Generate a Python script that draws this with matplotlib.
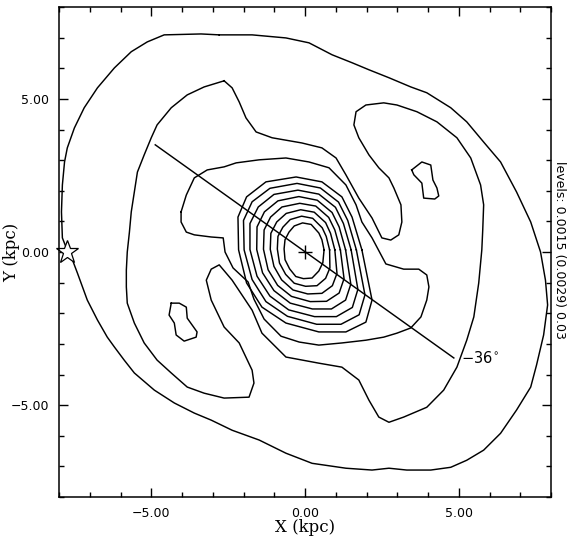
import numpy as np
import matplotlib.pyplot as plt
from matplotlib.ticker import MultipleLocator

# contour outlines, in kpc
outer_x = [-2.79, -1.72, -0.62, 0.13, 0.88, 1.53, 2.08, 2.73, 3.44, 3.96, 4.74, 5.26, 5.81, 6.36, 6.88, 7.34,
           7.66, 7.82, 7.89, 7.76, 7.53, 7.34, 6.88, 6.36, 5.81, 5.26, 4.74, 4.09, 3.31, 2.73, 2.18, 1.33,
           0.23, -0.62, -1.49, -2.37, -3.05, -3.60, -4.25, -4.90, -5.55, -5.88, -6.20, -6.43, -6.75, -7.08,
           -7.40, -7.60, -7.76, -7.89, -7.92, -7.89, -7.82, -7.73, -7.50, -7.18, -6.75, -6.20, -5.65, -5.13,
           -4.58, -3.38]
outer_y = [7.09, 7.09, 6.99, 6.83, 6.44, 6.18, 5.95, 5.69, 5.39, 5.20, 4.71, 4.25, 3.59, 2.94, 1.96, 0.98,
           0.00, -0.92, -1.73, -2.71, -3.69, -4.41, -5.16, -5.92, -6.47, -6.80, -7.03, -7.12, -7.12, -7.06,
           -7.12, -7.06, -6.90, -6.57, -6.14, -5.82, -5.49, -5.26, -4.93, -4.51, -3.95, -3.53, -3.10, -2.78,
           -2.22, -1.57, -0.69, -0.16, 0.13, 0.46, 1.31, 2.19, 2.94, 3.40, 4.05, 4.71, 5.36, 6.01, 6.54, 6.86,
           7.09, 7.12]

arms_x = [-2.63, -2.37, -2.14, -1.92, -1.59, -1.07, -0.10, 0.55, 1.01, 1.33, 1.75, 2.18, 2.50, 2.79, 3.05,
          3.15, 3.12, 2.89, 2.73, 2.40, 2.08, 1.75, 1.59, 1.66, 1.98, 2.56, 2.99, 3.64, 4.29, 4.94, 5.39,
          5.71, 5.81, 5.78, 5.75, 5.65, 5.49, 5.26, 4.94, 4.51, 3.96, 3.21, 2.73, 2.40, 2.08, 1.75, 1.20,
          0.45, -0.62, -1.40, -1.72, -2.37, -2.79, -3.05, -3.21, -3.05, -2.63, -2.14, -1.72, -1.66, -1.82,
          -2.63, -3.28, -3.83, -4.35, -4.81, -5.23, -5.55, -5.78, -5.81, -5.81, -5.78, -5.71, -5.65, -5.55,
          -5.45, -5.23, -5.00, -4.81, -4.35, -3.83, -3.28]
arms_y = [5.59, 5.36, 4.90, 4.38, 3.92, 3.73, 3.56, 3.40, 3.07, 2.52, 1.76, 1.11, 0.46, 0.39, 0.56,
          0.98, 1.54, 2.09, 2.42, 2.75, 3.17, 3.73, 4.15, 4.58, 4.80, 4.87, 4.80, 4.58, 4.25, 3.73, 3.07,
          2.19, 1.54, 0.72, 0.07, -1.01, -2.12, -2.88, -3.76, -4.51, -5.07, -5.39, -5.56, -5.39, -4.84, -4.18,
          -3.76, -3.63, -3.43, -2.65, -1.90, -0.92, -0.42, -0.56, -0.92, -1.57, -2.45, -2.97, -3.86, -4.28,
          -4.74, -4.77, -4.61, -4.41, -3.95, -3.53, -2.97, -2.32, -1.67, -1.14, -0.59, 0.00, 0.65, 1.31, 1.96,
          2.61, 3.17, 3.73, 4.15, 4.71, 5.13, 5.39]

bar_x = [-4.03, -3.86, -3.60, -3.18, -2.63, -2.24, -1.49, -0.62, 0.13, 0.78, 1.33, 1.66, 1.85, 2.18, 2.63,
         3.21, 3.70, 3.96, 4.03, 3.96, 3.77, 3.44, 2.99, 2.56, 1.98, 1.20, 0.45, -0.19, -0.78, -1.33, -1.66,
         -1.85, -2.34, -2.60, -2.66, -3.05, -3.60, -3.86, -4.03]
bar_y = [1.31, 1.86, 2.42, 2.68, 2.78, 2.91, 3.01, 3.07, 2.94, 2.75, 2.19, 1.54, 0.98, 0.46, -0.39,
         -0.56, -0.56, -0.75, -1.14, -1.57, -2.12, -2.48, -2.65, -2.78, -2.88, -2.97, -3.04, -2.94, -2.75,
         -2.19, -1.54, -0.98, -0.52, 0.00, 0.46, 0.49, 0.56, 0.65, 0.98]

island_ne_x = [3.47, 3.80, 4.09, 4.16, 4.29, 4.35, 4.22, 3.86, 3.80, 3.54]
island_ne_y = [2.68, 2.94, 2.84, 2.35, 2.09, 1.83, 1.73, 1.76, 2.25, 2.52]
island_sw_x = [-4.35, -4.09, -3.86, -3.83, -3.51, -3.54, -3.93, -4.19, -4.25, -4.42]
island_sw_y = [-1.67, -1.67, -1.80, -2.16, -2.61, -2.78, -2.91, -2.71, -2.32, -2.06]

# nested central contours, outermost first (16 vertices each)
core0_x = [1.85, 1.53, 1.20, 0.55, -0.29, -1.27, -1.90, -2.18, -2.16, -1.90, -1.40, -0.62, 0.45, 1.33, 1.98, 2.18]
core0_y = [0.07, 1.14, 1.80, 2.29, 2.45, 2.29, 1.80, 1.14, 0.07, -1.01, -1.80, -2.32, -2.61, -2.61, -2.29, -1.57]
core1_x = [1.67, 1.39, 1.09, 0.50, -0.26, -1.14, -1.72, -2.00, -1.98, -1.72, -1.27, -0.57, 0.38, 1.17, 1.76, 1.95]
core1_y = [0.07, 1.03, 1.63, 2.09, 2.24, 2.08, 1.64, 1.03, 0.07, -0.90, -1.62, -2.10, -2.36, -2.36, -2.05, -1.40]
core2_x = [1.50, 1.25, 0.99, 0.45, -0.23, -1.01, -1.52, -1.79, -1.79, -1.56, -1.14, -0.53, 0.31, 1.02, 1.54, 1.72]
core2_y = [0.07, 0.93, 1.46, 1.89, 2.02, 1.88, 1.47, 0.93, 0.08, -0.79, -1.44, -1.89, -2.11, -2.11, -1.81, -1.22]
core3_x = [1.32, 1.11, 0.88, 0.40, -0.20, -0.88, -1.32, -1.56, -1.57, -1.38, -1.01, -0.48, 0.24, 0.86, 1.32, 1.49]
core3_y = [0.07, 0.82, 1.29, 1.69, 1.81, 1.67, 1.31, 0.82, 0.08, -0.68, -1.26, -1.67, -1.86, -1.86, -1.57, -1.05]
core4_x = [1.15, 0.97, 0.77, 0.35, -0.17, -0.75, -1.12, -1.33, -1.35, -1.20, -0.89, -0.44, 0.17, 0.70, 1.11, 1.27]
core4_y = [0.07, 0.72, 1.13, 1.50, 1.59, 1.47, 1.14, 0.72, 0.09, -0.58, -1.09, -1.45, -1.62, -1.61, -1.34, -0.87]
core5_x = [0.97, 0.83, 0.67, 0.30, -0.14, -0.61, -0.92, -1.11, -1.13, -1.01, -0.76, -0.39, 0.09, 0.55, 0.89, 1.04]
core5_y = [0.07, 0.61, 0.96, 1.30, 1.38, 1.26, 0.98, 0.61, 0.09, -0.47, -0.91, -1.24, -1.37, -1.35, -1.10, -0.70]
core6_x = [0.80, 0.69, 0.56, 0.25, -0.11, -0.48, -0.72, -0.88, -0.90, -0.83, -0.63, -0.35, 0.02, 0.39, 0.67, 0.81]
core6_y = [0.07, 0.51, 0.79, 1.10, 1.17, 1.06, 0.81, 0.51, 0.10, -0.36, -0.73, -1.02, -1.12, -1.10, -0.86, -0.52]
core7_x = [0.62, 0.55, 0.45, 0.20, -0.08, -0.35, -0.52, -0.65, -0.68, -0.65, -0.50, -0.30, -0.05, 0.23, 0.45, 0.58]
core7_y = [0.07, 0.40, 0.62, 0.90, 0.95, 0.85, 0.65, 0.40, 0.10, -0.25, -0.55, -0.80, -0.87, -0.85, -0.62, -0.35]

bar_line_x = [-4.87, 4.84]
bar_line_y = [3.50, -3.46]
sun_x, sun_y = -7.73, 0.0

fig = plt.figure(figsize=(5.7, 5.45), dpi=100)
ax = fig.add_axes([59/570, 1-497/545, 492/570, 490/545])

loops = [(outer_x, outer_y), (arms_x, arms_y), (bar_x, bar_y), (island_ne_x, island_ne_y),
         (island_sw_x, island_sw_y), (core0_x, core0_y), (core1_x, core1_y), (core2_x, core2_y),
         (core3_x, core3_y), (core4_x, core4_y), (core5_x, core5_y), (core6_x, core6_y),
         (core7_x, core7_y)]
for xs, ys in loops:
    ax.plot(xs + xs[:1], ys + ys[:1], color='black', lw=1.05)

ax.plot(bar_line_x, bar_line_y, color='black', lw=1.05)
ax.plot(0, 0, marker='+', ms=10, mew=1.0, color='black')
ax.plot(sun_x, sun_y, marker='*', ms=17, mfc='white', mec='black', mew=0.9, clip_on=False)
ax.text(5.07, -3.46, '\u221236$^{\\circ}$', fontsize=10.5, va='center', ha='left')

ax.set_xlim(-8, 8)
ax.set_ylim(-8, 8)
ax.set_xticks([-5, 0, 5])
ax.set_yticks([-5, 0, 5])
ax.set_xticklabels(['\u22125.00', '0.00', '5.00'])
ax.set_yticklabels(['\u22125.00', '0.00', '5.00'])
ax.xaxis.set_minor_locator(MultipleLocator(1))
ax.yaxis.set_minor_locator(MultipleLocator(1))
ax.tick_params(which='both', direction='in', top=True, right=True, width=1.0, labelsize=9)
ax.tick_params(which='major', length=6.5, pad=7)
ax.tick_params(which='minor', length=3.5)
for s in ax.spines.values():
    s.set_linewidth(1.1)

fig.text(305/570, 1-528/545, 'X (kpc)', fontfamily='DejaVu Serif', fontsize=12,
         ha='center', va='center')
fig.text(12/570, 1-252/545, 'Y (kpc)', fontfamily='DejaVu Serif', fontsize=12,
         rotation=90, ha='center', va='center')
fig.text(0.982, 1-250/545, 'levels: 0.0015 (0.0029) 0.03', rotation=-90, fontsize=9,
         ha='center', va='center')

fig.savefig('out.png', dpi=100)
